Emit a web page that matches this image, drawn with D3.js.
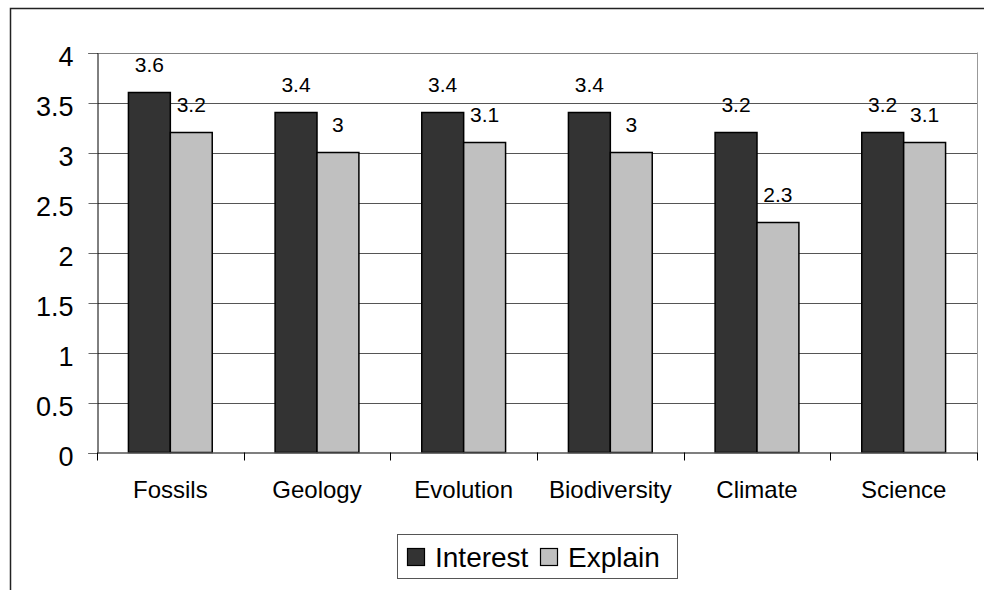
<!DOCTYPE html>
<html><head><meta charset="utf-8">
<script src="https://cdn.jsdelivr.net/npm/d3@7"></script>
<style>body{margin:0;background:#fff}svg{display:block;font-family:"Liberation Sans",Arial,sans-serif}</style>
</head><body><svg id="c" width="984" height="590"></svg>
<script>
const categories = ["Fossils","Geology","Evolution","Biodiversity","Climate","Science"];
const seriesNames = ["Interest","Explain"];
const interest = [3.6,3.4,3.4,3.4,3.2,3.2];
const explain = [3.2,3.0,3.1,3.0,2.3,3.1];
const yTicks = [0,0.5,1,1.5,2,2.5,3,3.5,4];
const colors = ["#333333","#c0c0c0"];

const svg = d3.select("#c");
const L = 97, R = 977, T = 52.5, B = 452.5;
const x = d3.scaleBand().domain(categories).range([L,R]).paddingInner(0).paddingOuter(0);
const bw = x.bandwidth()/3.5;
const xs = d3.scaleBand().domain(seriesNames).range([0, 2*bw]);
const y = d3.scaleLinear().domain([0,4]).range([B,T]);

// outer frame
svg.append("path").attr("d","M10.5,600 V8.5 H1000").attr("fill","none").attr("stroke","#222").attr("stroke-width",1.5);

// gridlines
svg.append("g").selectAll("line").data(yTicks.filter(d=>d>0)).join("line")
  .attr("x1",L).attr("x2",R).attr("y1",d=>Math.round(y(d))+0.5).attr("y2",d=>Math.round(y(d))+0.5)
  .attr("stroke",d=>d===4?"#808080":"#555").attr("stroke-width",1);
// right border of plot
svg.append("line").attr("x1",R+0.5).attr("x2",R+0.5).attr("y1",T).attr("y2",B).attr("stroke","#999");

// y axis
const yAxis = d3.axisLeft(y).tickValues(yTicks).tickSize(9).tickPadding(15).tickFormat(d3.format("~g"));
const gy = svg.append("g").attr("transform",`translate(${L+0.5},0.5)`).call(yAxis);
gy.select(".domain").attr("stroke","#000");
gy.selectAll(".tick line").attr("stroke","#666");
gy.selectAll(".tick text").attr("font-size",27).attr("dy","0.45em").attr("fill","#000").attr("font-family","Liberation Sans, Arial, sans-serif");

// bars
const data = categories.map((c,i)=>({c, vals:[interest[i],explain[i]]}));
const groups = svg.append("g").selectAll("g").data(data).join("g")
  .attr("transform",d=>`translate(${x(d.c)+(x.bandwidth()-2*bw)/2},0)`);
groups.selectAll("rect").data(d=>d.vals.map((v,j)=>({v,s:seriesNames[j],j}))).join("rect")
  .attr("x",d=>xs(d.s)).attr("width",bw)
  .attr("y",d=>y(d.v)).attr("height",d=>B-y(d.v))
  .attr("fill",d=>colors[d.j]).attr("stroke","#000").attr("stroke-width",1.5);
groups.selectAll("text").data(d=>d.vals.map((v,j)=>({v,s:seriesNames[j],j}))).join("text")
  .attr("x",d=>xs(d.s)+bw/2).attr("y",d=>y(d.v)-21)
  .attr("text-anchor","middle").attr("font-size",21).attr("fill","#000")
  .text(d=>d3.format("~g")(d.v));

// x axis
const xAxis = d3.axisBottom(x).tickSize(0).tickPadding(28);
const gx = svg.append("g").attr("transform",`translate(0,${B})`).call(xAxis);
gx.select(".domain").attr("stroke","#555").attr("stroke-width",1.5);
gx.selectAll(".tick text").attr("font-size",24).attr("fill","#000").attr("font-family","Liberation Sans, Arial, sans-serif");
// category separator ticks
svg.append("g").selectAll("line").data(d3.range(categories.length+1)).join("line")
  .attr("x1",i=>Math.round(L+i*x.step())+0.5).attr("x2",i=>Math.round(L+i*x.step())+0.5)
  .attr("y1",B).attr("y2",B+8).attr("stroke","#000");

// legend
const lg = svg.append("g");
lg.append("rect").attr("x",397.5).attr("y",534.5).attr("width",280).attr("height",44).attr("fill","#fff").attr("stroke","#555");
const items = [{n:seriesNames[0],c:colors[0],x:407},{n:seriesNames[1],c:colors[1],x:540}];
items.forEach(it=>{
  lg.append("rect").attr("x",it.x+0.5).attr("y",548.5).attr("width",17).attr("height",17).attr("fill",it.c).attr("stroke","#000").attr("stroke-width",1.2);
  lg.append("text").attr("x",it.x+28).attr("y",567).attr("font-size",28).attr("fill","#000").text(it.n);
});
</script></body></html>
